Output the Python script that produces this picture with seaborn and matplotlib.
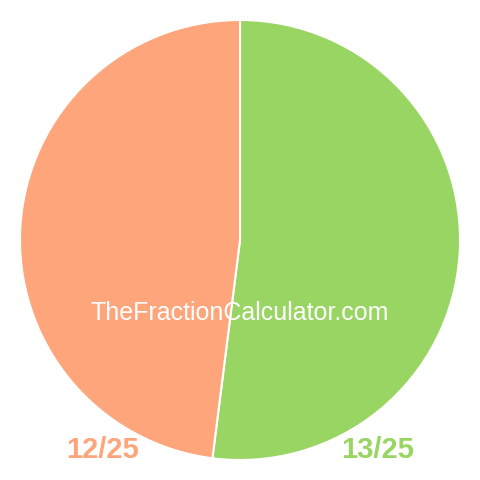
import matplotlib
matplotlib.use("Agg")
import matplotlib.pyplot as plt
import seaborn as sns

sns.set_theme(style="white")
plt.rcParams['font.family'] = ['Liberation Sans', 'DejaVu Sans']

labels = ["13/25", "12/25"]
values = [13, 12]
colors = ["#99d562", "#ffa57b"]

fig = plt.figure(figsize=(4.8, 4.8), dpi=100)
ax = fig.add_axes([0, 0, 1, 1])
ax.pie(values, colors=colors, startangle=90, counterclock=False, radius=220,
       center=(0, 0), wedgeprops=dict(edgecolor="white", linewidth=1.5))
ax.set_xlim(-240, 240)
ax.set_ylim(-240, 240)
ax.set_aspect("equal")
ax.axis("off")

ax.text(0, -73, "TheFractionCalculator.com", color="white", fontsize=18,
        ha="center", va="center")
ax.text(-137, -210, labels[1], color=colors[1], fontsize=21, fontweight="bold",
        ha="center", va="center")
ax.text(138, -210, labels[0], color=colors[0], fontsize=21, fontweight="bold",
        ha="center", va="center")

fig.savefig("out.png", dpi=100)
